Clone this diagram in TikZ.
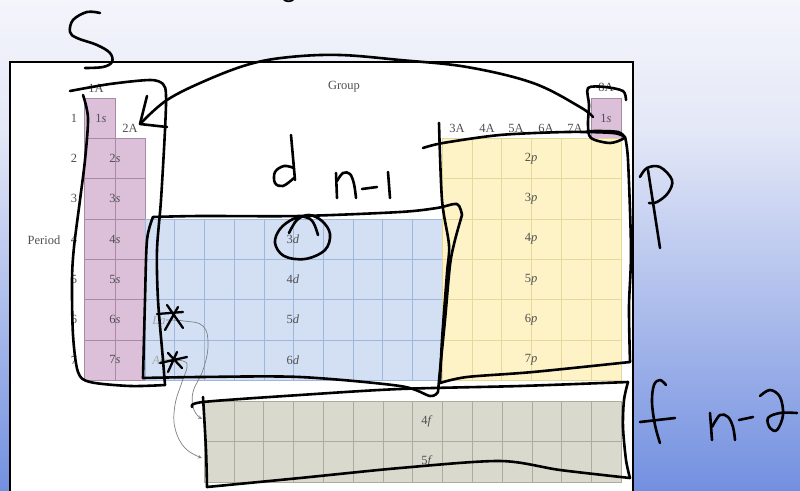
\documentclass[tikz,border=0pt]{standalone}
\usepackage{fontspec}
\setmainfont{Liberation Serif}
\newfontfamily\titlefont{Carlito}
\usetikzlibrary{arrows.meta}
\definecolor{sfill}{HTML}{DCC0DA}
\definecolor{sline}{HTML}{A88AA7}
\definecolor{dfill}{HTML}{D3E0F4}
\definecolor{dline}{HTML}{9FB6DD}
\definecolor{pfill}{HTML}{FDF3C6}
\definecolor{pline}{HTML}{E6D79C}
\definecolor{ffill}{HTML}{DAD9CD}
\definecolor{fline}{HTML}{ABAB9E}
\definecolor{lbl}{HTML}{505050}
\definecolor{bgtop}{HTML}{F4F5FB}
\definecolor{bgmid}{HTML}{E4E8F7}
\definecolor{bgbot}{HTML}{7390E0}
\begin{document}
\begin{tikzpicture}[x=1pt,y=-1pt,
  hand/.style={line width=2.6pt,line cap=round,line join=round},
  lab/.style={text=lbl,font=\fontsize{12.5}{14}\selectfont,inner sep=0pt},
  grid/.style={line width=0.6pt},
  garrow/.style={draw=gray,line width=0.7pt,-{Stealth[length=4pt,width=3.5pt]}}]
\useasboundingbox (0,0) rectangle (800,490);
% background
\shade[top color=bgtop,bottom color=bgmid] (0,0) rectangle (800,130);
\shade[top color=bgmid,bottom color=bgbot] (0,130) rectangle (800,490);
\node[font=\titlefont\fontsize{30}{30}\selectfont,anchor=base,inner sep=0pt] (gchar) at (289,-3) {g};
% panel
\draw[line width=2pt,fill=white] (10,62) rectangle (633,500);
% s block
\fill[sfill] (84,98) rectangle (115,380.1);
\fill[sfill] (115,138.3) rectangle (145,380.1);
\draw[sline,grid] (84,98) -- (115,98) -- (115,138.3) -- (145,138.3) -- (145,380.1) -- (84,380.1) -- cycle;
\foreach \i in {2,...,7} \draw[sline,grid] (84,{98+40.3*(\i-1)}) -- (145,{98+40.3*(\i-1)});
\draw[sline,grid] (115,138.3) -- (115,380.1);
% 8A 1s
\fill[sfill] (591,98) rectangle (620.8,138.3);
\draw[sline,grid] (591,98) rectangle (620.8,138.3);
% d block
\fill[dfill] (145,218.9) rectangle (442,380.1);
\foreach \k in {1,...,9} \draw[dline,grid] ({145+29.7*\k},218.9) -- ({145+29.7*\k},380.1);
\foreach \i in {5,6,7} \draw[dline,grid] (145,{98+40.3*(\i-1)}) -- (442,{98+40.3*(\i-1)});
\draw[dline,grid] (145,218.9) rectangle (442,380.1);
% p block
\fill[pfill] (442,138.3) rectangle (620.8,380.1);
\foreach \k in {1,...,5} \draw[pline,grid] ({442+29.8*\k},138.3) -- ({442+29.8*\k},380.1);
\foreach \i in {3,...,7} \draw[pline,grid] (442,{98+40.3*(\i-1)}) -- (620.8,{98+40.3*(\i-1)});
\draw[pline,grid] (442,138.3) rectangle (620.8,380.1);
% f block
\fill[ffill] (204,401) rectangle (621.2,482);
\foreach \k in {1,...,13} \draw[fline,grid] ({204+29.8*\k},401) -- ({204+29.8*\k},482);
\draw[fline,grid] (204,441.5) -- (621.2,441.5);
\draw[fline,grid] (204,401) rectangle (621.2,482);
% labels
\node[lab] (g1A) at (96,88) {1A};
\node[lab] (g2A) at (130,128) {2A};
\node[lab] (group) at (344,87) {Group};
\node[lab] (g3A) at (457,128) {3A};
\node[lab] (g4A) at (487,128) {4A};
\node[lab] (g5A) at (516,128) {5A};
\node[lab] (g6A) at (546,128) {6A};
\node[lab] (g7A) at (575,128) {7A};
\node[lab] (g8A) at (606,87) {8A};
\node[lab] (period) at (44,240) {Period};
\foreach \i in {1,...,7} \node[lab] (per\i) at (74,{98+40.3*(\i-0.5)}) {\i};
\node[lab] (s1) at (101,118.2) {1\textit{s}};
\foreach \i in {2,...,7} \node[lab] (s\i) at (115,{98+40.3*(\i-0.5)}) {\i\textit{s}};
\node[lab] (h1s) at (606,118.2) {1\textit{s}};
\foreach \i/\n in {4/3,5/4,6/5,7/6} \node[lab] (d\n) at (293,{98+40.3*(\i-0.5)}) {\n\textit{d}};
\foreach \i in {2,...,7} \node[lab] (p\i) at (531,{98+40.3*(\i-0.5)}) {\i\textit{p}};
\node[lab,text=gray!70] (la) at (159,320) {\textit{La}};
\node[lab,text=gray!70] (ac) at (159,360) {\textit{Ac}};
\node[lab] (f4) at (427,421) {4\textit{f}};
\node[lab] (f5) at (427,461) {5\textit{f}};
% grey arrows
\coordinate (f4in) at (202,419);
\coordinate (f5in) at (202,458);
\draw[garrow] plot[smooth,tension=0.7] coordinates {(la.east) (184,321) (203,326) (208,345) (203,370) (193,392) (194,410) (f4in)};
\draw[garrow] plot[smooth,tension=0.7] coordinates {(ac.east) (183,361) (187,367) (182,382) (175,405) (175,428) (185,448) (f5in)};
% hand annotations
% S
\draw[hand] plot[smooth,tension=0.6] coordinates {(100,13) (87,12) (73,20) (70,32) (77,38) (97,45) (110,53) (112,62) (103,67) (85,68)};
% s box
\draw[hand] plot[smooth,tension=0.5] coordinates {(83,95) (88,118) (85,160) (80,200) (74,247) (72,280) (73,335) (78,372) (90,382) (130,386) (165,385)};
\draw[hand] plot[smooth,tension=0.5] coordinates {(165,385) (163,360) (158,300) (157,250) (161,200) (165,130) (166,95) (163,84) (150,80) (110,84) (70,91)};
% arrow
\draw[hand] plot[smooth,tension=0.6] coordinates {(593,117) (580,107) (533,83) (467,67) (400,60) (340,55) (290,57) (250,64) (207,80) (167,100) (140,124)};
\draw[hand] (147,96) -- (140,124) -- (167,127);
% d n-1
\draw[hand] (291,135) -- (295,180);
\draw[hand] plot[smooth,tension=0.6] coordinates {(294,168) (284,166) (275,172) (275,183) (283,186) (294,178)};
\draw[hand] (336,173) -- (337,198);
\draw[hand] plot[smooth,tension=0.6] coordinates {(337,181) (343,173) (350,174) (354,184) (356,198)};
\draw[hand] (362,189) -- (377,187);
\draw[hand] (388,172) -- (390,198);
% circle 3d
\draw[hand] plot[smooth,tension=0.6] coordinates {(289,233) (297,220) (309,215) (322,221) (330,234) (325,250) (305,259) (284,256) (275,243) (280,229) (293,219) (305,217) (313,222) (318,235)};
% d box
\draw[hand] plot[smooth,tension=0.5] coordinates {(153,217) (200,216) (300,216) (400,212) (437,208) (457,204) (462,215)};
\draw[hand] plot[smooth,tension=0.5] coordinates {(462,215) (455,240) (450,265) (445,320) (440,370) (438,392)};
\draw[hand] plot[smooth,tension=0.5] coordinates {(438,392) (430,396) (400,386) (300,377) (200,377) (143,378)};
\draw[hand] plot[smooth,tension=0.5] coordinates {(143,378) (145,300) (147,240) (153,217)};
% p box
\draw[hand] plot[smooth,tension=0.5] coordinates {(423,148) (443,143) (500,135) (567,132) (613,133) (625,137)};
\draw[hand] plot[smooth,tension=0.5] coordinates {(625,137) (628,160) (631,250) (629,307) (630,362)};
\draw[hand] plot[smooth,tension=0.5] coordinates {(630,362) (533,372) (467,377) (440,383)};
\draw[hand] plot[smooth,tension=0.5] coordinates {(440,383) (442,340) (447,273) (449,245) (442,200) (439,123)};
% 8A loop
\draw[hand] plot[smooth,tension=0.5] coordinates {(626,100) (623,91) (605,87) (588,88) (589,105) (588,125) (591,138) (610,143) (624,138) (618,132) (595,131) (586,132)};
% P
\draw[hand] (648,170) -- (660,248);
\draw[hand] plot[smooth,tension=0.6] coordinates {(640,177) (647,168) (660,167) (672,180) (668,193) (657,202) (649,203)};
% f box
\draw[hand] plot[smooth,tension=0.5] coordinates {(192,407) (203,402) (300,395) (400,389) (520,386) (628,382)};
\draw[hand] plot[smooth,tension=0.5] coordinates {(628,382) (624,400) (623,427) (626,460) (630,478)};
\draw[hand] plot[smooth,tension=0.5] coordinates {(630,478) (560,470) (500,461) (400,468) (300,478) (207,487)};
\draw[hand] plot[smooth,tension=0.5] coordinates {(207,487) (206,450) (203,397)};
% f n-2
\draw[hand] plot[smooth,tension=0.6] coordinates {(666,385) (660,380) (654,385) (652,402) (655,425) (660,443)};
\draw[hand] (640,422) -- (675,418);
\draw[hand] (710,413) -- (712,440);
\draw[hand] plot[smooth,tension=0.6] coordinates {(712,427) (720,415) (728,417) (733,427) (735,440)};
\draw[hand] (739,420) -- (753,417);
\draw[hand] plot[smooth,tension=0.6] coordinates {(760,396) (770,390) (780,397) (783,415) (777,430) (770,428) (768,418) (780,413) (797,413)};
% asterisks
\draw[hand,line width=2.3pt] (157,314) -- (183,312) (167,305) -- (183,328) (178,307) -- (165,330);
\draw[hand,line width=2.3pt] (160,363) -- (187,357) (168,353) -- (182,368) (177,352) -- (168,372);
\end{tikzpicture}
\end{document}
